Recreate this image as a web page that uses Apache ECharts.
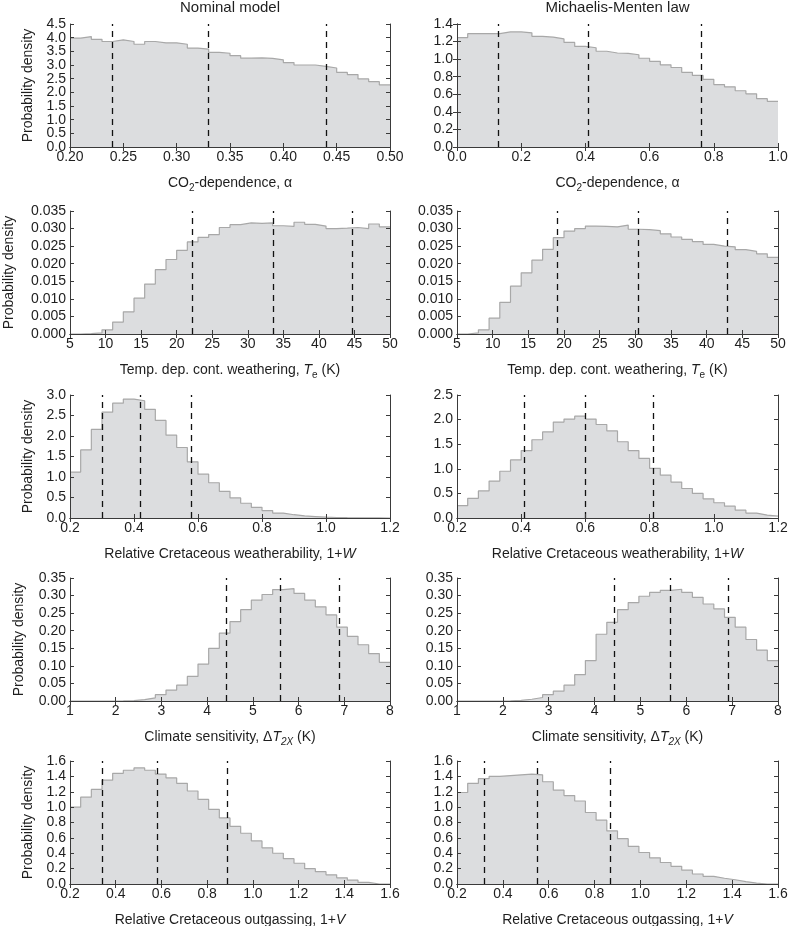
<!DOCTYPE html>
<html><head><meta charset="utf-8">
<script src="https://cdn.jsdelivr.net/npm/echarts@6/dist/echarts.min.js"></script>
<style>html,body{margin:0;padding:0;background:#fff}#c{width:788px;height:926px}</style>
</head><body><div id="c"></div>
<script>
// ---------------- data (30 equal bins across each x range) ----------------
const alphaNominal = [3.98,4.04,3.94,3.86,3.92,3.86,3.76,3.86,3.81,3.81,3.76,3.62,3.58,3.46,3.43,3.34,3.25,3.26,3.24,3.19,3.09,3.00,3.00,2.95,2.89,2.73,2.65,2.49,2.39,2.27];
const alphaMM = [1.245,1.29,1.29,1.29,1.31,1.31,1.30,1.26,1.25,1.23,1.19,1.145,1.13,1.09,1.07,1.065,1.05,1.01,0.975,0.935,0.905,0.85,0.815,0.77,0.71,0.685,0.64,0.605,0.55,0.52];
const teNominal = [0,0.0001,0.0003,0.0012,0.0034,0.0063,0.0102,0.0142,0.0183,0.0212,0.0238,0.0262,0.0275,0.0283,0.0303,0.0311,0.0316,0.0315,0.0316,0.0308,0.0306,0.0318,0.0312,0.0307,0.0300,0.0301,0.0303,0.0300,0.0313,0.0305];
const teMM = [0,0.0003,0.0012,0.0045,0.0090,0.0136,0.0174,0.0210,0.0241,0.0274,0.0293,0.0300,0.0307,0.0306,0.0305,0.0310,0.0298,0.0297,0.0294,0.0285,0.0276,0.0269,0.0263,0.0255,0.0250,0.0248,0.0240,0.0235,0.0228,0.0218];
const wNominal = [1.12,1.66,2.16,2.58,2.80,2.90,2.86,2.65,2.38,2.02,1.72,1.37,1.07,0.86,0.65,0.49,0.36,0.26,0.18,0.12,0.08,0.05,0.035,0.02,0.012,0.007,0.004,0.002,0.001,0.0005];
const wMM = [0.25,0.40,0.55,0.75,0.95,1.18,1.37,1.59,1.75,1.95,2.01,2.07,2.01,1.90,1.77,1.55,1.37,1.21,1.01,0.87,0.73,0.60,0.50,0.39,0.31,0.24,0.16,0.10,0.06,0.04];
const dtNominal = [0,0,0,0,0.0003,0.001,0.004,0.009,0.018,0.031,0.045,0.07,0.105,0.15,0.193,0.226,0.26,0.287,0.303,0.317,0.320,0.306,0.287,0.268,0.245,0.21,0.184,0.16,0.135,0.11];
const dtMM = [0,0,0,0,0.0003,0.002,0.005,0.01,0.018,0.028,0.045,0.075,0.115,0.19,0.224,0.26,0.28,0.298,0.309,0.315,0.318,0.309,0.295,0.276,0.262,0.238,0.21,0.175,0.145,0.115];
const vNominal = [1.0,1.13,1.23,1.35,1.44,1.48,1.51,1.48,1.43,1.38,1.31,1.21,1.10,0.97,0.86,0.75,0.66,0.56,0.47,0.40,0.33,0.27,0.20,0.16,0.12,0.08,0.05,0.02,0,0];
const vMM = [1.19,1.31,1.37,1.40,1.41,1.42,1.43,1.42,1.33,1.22,1.15,1.08,0.93,0.83,0.69,0.59,0.49,0.41,0.34,0.28,0.23,0.18,0.13,0.10,0.075,0.055,0.03,0.012,0,0];

// quantile (dashed) lines
const alphaNominalQ = [0.241,0.331,0.438];
const alphaMMQ = [0.132,0.408,0.755];
const teNominalQ = [22.25,33.6,44.75];
const teMMQ = [19.06,30.36,42.9];
const wNominalQ = [0.299,0.424,0.585];
const wMMQ = [0.415,0.600,0.810];
const dtNominalQ = [4.41,5.595,6.886];
const dtMMQ = [4.44,5.64,6.92];
const vNominalQ = [0.341,0.576,0.885];
const vMMQ = [0.319,0.554,0.867];

// axis ranges / ticks
const alphaNominalRange = [0.2,0.5], alphaMMRange = [0,1], teRange = [5,50], wRange = [0.2,1.2], dtRange = [1,8], vRange = [0.2,1.6];
const alphaNominalYTicks = [0,0.5,1.0,1.5,2.0,2.5,3.0,3.5,4.0,4.5];

const columnTitles = ['Nominal model','Michaelis-Menten law'];
const xNames = [
  'CO{sub|2}-dependence, α',
  'Temp. dep. cont. weathering, {it|T}{sub|e} (K)',
  'Relative Cretaceous weatherability, 1+{it|W}',
  'Climate sensitivity, Δ{it|T}{itsub|2X} (K)',
  'Relative Cretaceous outgassing, 1+{it|V}'
];
const yName = 'Probability density';

// ---------------- layout ----------------
const FONT = '"Liberation Sans", Arial, Helvetica, sans-serif';
const TXT = '#1e1e1e';
const AX = '#3a3a3a';
const colLeft = [70, 457], colWidth = [320, 321];
const rowTop = [24, 211, 395, 578, 761], rowH = 123;

const panels = [
  {r:0,c:0,vals:alphaNominal,q:alphaNominalQ,xr:alphaNominalRange,xi:0.05,xd:2,ymax:4.5,yi:0.5,yd:1,yGap:35,yTicks:alphaNominalYTicks},
  {r:0,c:1,vals:alphaMM,q:alphaMMQ,xr:alphaMMRange,xi:0.2,xd:1,ymax:1.4,yi:0.2,yd:1},
  {r:1,c:0,vals:teNominal,q:teNominalQ,xr:teRange,xi:5,xd:0,ymax:0.035,yi:0.005,yd:3,yGap:54},
  {r:1,c:1,vals:teMM,q:teMMQ,xr:teRange,xi:5,xd:0,ymax:0.035,yi:0.005,yd:3},
  {r:2,c:0,vals:wNominal,q:wNominalQ,xr:wRange,xi:0.2,xd:1,ymax:3.0,yi:0.5,yd:1,yGap:35},
  {r:2,c:1,vals:wMM,q:wMMQ,xr:wRange,xi:0.2,xd:1,ymax:2.5,yi:0.5,yd:1},
  {r:3,c:0,vals:dtNominal,q:dtNominalQ,xr:dtRange,xi:1,xd:0,ymax:0.35,yi:0.05,yd:2,yGap:44},
  {r:3,c:1,vals:dtMM,q:dtMMQ,xr:dtRange,xi:1,xd:0,ymax:0.35,yi:0.05,yd:2},
  {r:4,c:0,vals:vNominal,q:vNominalQ,xr:vRange,xi:0.2,xd:1,ymax:1.6,yi:0.2,yd:1,yGap:35},
  {r:4,c:1,vals:vMM,q:vMMQ,xr:vRange,xi:0.2,xd:1,ymax:1.6,yi:0.2,yd:1}
];

function stepPoints(vals, lo, hi) {
  const n = vals.length, w = (hi - lo) / n;
  const pts = vals.map((v, i) => [lo + i * w, v]);
  pts.push([hi, vals[n - 1]]);
  return pts;
}

const rich = {
  sub: {fontSize: 10, lineHeight: 10, verticalAlign: 'bottom', fontFamily: FONT, color: TXT},
  it: {fontSize: 14, lineHeight: 20, fontStyle: 'italic', fontFamily: FONT, color: TXT},
  itsub: {fontSize: 10, lineHeight: 10, verticalAlign: 'bottom', fontStyle: 'italic', fontFamily: FONT, color: TXT}
};

const grid = [], xAxis = [], yAxis = [], series = [], extraY = [];
panels.forEach((p, i) => {
  grid.push({left: colLeft[p.c], width: colWidth[p.c], top: rowTop[p.r], height: rowH, containLabel: false, outerBoundsMode: 'none'});
  const tick = {show: true, inside: true, length: 4, lineStyle: {color: AX, width: 1}};
  const line = {show: true, lineStyle: {color: AX, width: 1}};
  const common = {type: 'value', gridIndex: i, splitLine: {show: false}, z: 5};
  const yLabel = {show: true, margin: 4, fontSize: 14, color: TXT, fontFamily: FONT,
    showMinLabel: true, showMaxLabel: true, hideOverlap: false, formatter: v => v.toFixed(p.yd)};
  xAxis.push(Object.assign({}, common, {
    position: 'bottom', min: p.xr[0], max: p.xr[1], interval: p.xi,
    axisLine: line, axisTick: tick,
    axisLabel: {show: true, margin: 3, fontSize: 14, color: TXT, fontFamily: FONT,
      showMinLabel: true, showMaxLabel: true, hideOverlap: false, formatter: v => v.toFixed(p.xd)},
    name: xNames[p.r], nameLocation: 'middle', nameGap: 26,
    nameTextStyle: {fontSize: 14, color: TXT, fontFamily: FONT, lineHeight: 20, rich: rich}
  }));
  xAxis.push(Object.assign({}, common, {
    position: 'top', min: p.xr[0], max: p.xr[1], interval: p.xi,
    axisLine: line, axisTick: tick, axisLabel: {show: false}
  }));
  const yl = Object.assign({}, common, {
    position: 'left', min: 0, max: p.ymax, interval: p.yi,
    axisLine: line, axisTick: tick, axisLabel: Object.assign({}, yLabel)
  });
  if (p.yTicks) {
    // dense labels: split into two label layers so none is auto-hidden
    yl.axisLabel.customValues = p.yTicks.filter((v, k) => k % 2 === 0);
    extraY.push(Object.assign({}, common, {
      position: 'left', min: 0, max: p.ymax, interval: p.yi,
      axisLine: {show: false}, axisTick: {show: false},
      axisLabel: Object.assign({}, yLabel, {customValues: p.yTicks.filter((v, k) => k % 2 === 1)})
    }));
  }
  if (p.c === 0) {
    Object.assign(yl, {name: yName, nameLocation: 'middle', nameRotate: 90, nameGap: p.yGap,
      nameTextStyle: {fontSize: 14, color: TXT, fontFamily: FONT}});
  }
  yAxis.push(yl);
  yAxis.push(Object.assign({}, common, {
    position: 'right', min: 0, max: p.ymax, interval: p.yi,
    axisLine: line, axisTick: tick, axisLabel: {show: false}
  }));
  series.push({
    type: 'line', xAxisIndex: 2 * i, yAxisIndex: 2 * i, step: 'end',
    data: stepPoints(p.vals, p.xr[0], p.xr[1]),
    symbol: 'none', silent: true, z: 2,
    lineStyle: {color: '#a8a8a8', width: 1.2},
    areaStyle: {color: '#dcdddf', opacity: 1},
    markLine: {
      silent: true, symbol: ['none', 'none'], label: {show: false}, animation: false,
      lineStyle: {color: '#111', type: [6, 5], width: 1.3},
      data: p.q.map(v => ({xAxis: v}))
    }
  });
});
extraY.forEach(a => yAxis.push(a));

const chart = echarts.init(document.getElementById('c'), null, {renderer: 'canvas'});
chart.setOption({
  animation: false,
  backgroundColor: '#fff',
  title: columnTitles.map((t, c) => ({
    text: t, left: colLeft[c] + colWidth[c] / 2, top: 0, textAlign: 'center', padding: 0,
    textStyle: {fontSize: 15, fontWeight: 'normal', color: TXT, fontFamily: FONT}
  })),
  grid, xAxis, yAxis, series
});
</script>
</body></html>
